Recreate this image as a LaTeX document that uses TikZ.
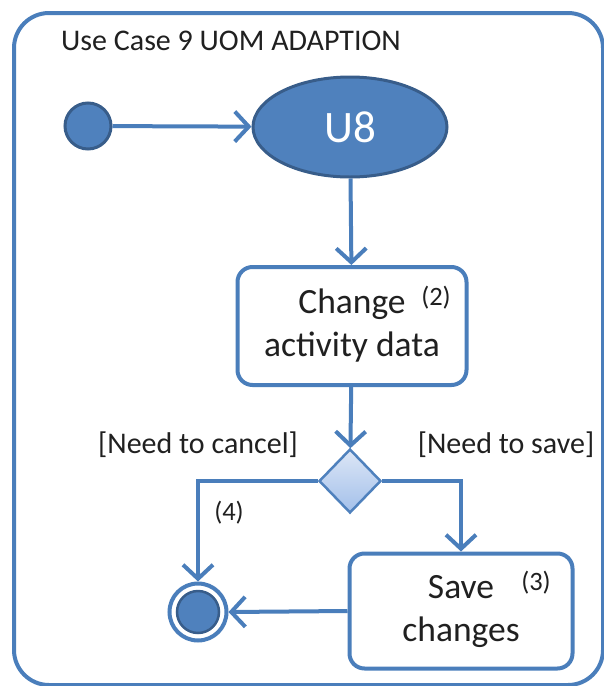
\documentclass[tikz,border=0pt]{standalone}
\usepackage{fontspec}
\setmainfont{Carlito}
\usetikzlibrary{arrows.meta,shapes.geometric,positioning}
\definecolor{ublue}{HTML}{4F81BD}
\definecolor{uline}{HTML}{4A7EBB}
\definecolor{udark}{HTML}{385D8A}
\definecolor{dtop}{HTML}{DCE6F6}
\definecolor{dbot}{HTML}{A3C0EA}
\definecolor{utext}{HTML}{202020}
\newcommand{\boxtext}[2]{\raisebox{-5pt}{\begin{tabular}{@{}c@{}}#1\\#2\end{tabular}}}
\begin{document}
\begin{tikzpicture}[x=1pt,y=-1pt,
  frame/.style={draw=uline,line width=4pt,rounded corners=35pt},
  conn/.style={draw=uline,line width=4pt,-{Straight Barb[length=14pt,width=30pt,line width=4pt]}},
  actbox/.style={draw=uline,line width=4pt,rounded corners=15pt,fill=white,inner sep=0pt,align=center,text=utext,font=\fontsize{35.5}{43}\selectfont},
  lbl/.style={text=utext,inner sep=0pt,font=\fontsize{30}{34}\selectfont},
  num/.style={text=utext,inner sep=0pt,font=\fontsize{26.5}{30}\selectfont}]
\useasboundingbox (0,0) rectangle (604,686);
\draw[frame] (14,13) rectangle (603,685);
\node[lbl,anchor=base west] (title) at (61,50) {Use Case 9 UOM ADAPTION};
\node[circle,fill=ublue,draw=udark,line width=3pt,minimum size=46pt,inner sep=0pt] (init) at (88,126) {};
\node[ellipse,fill=ublue,draw=udark,line width=3pt,minimum width=194pt,minimum height=100pt,inner sep=0pt,text=white,font=\fontsize{45}{48}\selectfont] (u8) at (350,127) {U8};
\node[actbox,minimum width=229pt,minimum height=118pt] (chg) at (352,326) {\boxtext{Change}{activity data}};
\node[num] (n2) at (436,298) {(2)};
\node[diamond,draw=ublue,line width=2.5pt,top color=dtop,bottom color=dbot,minimum width=62pt,minimum height=64pt,inner sep=0pt] (dec) at (350,481) {};
\node[actbox,minimum width=223pt,minimum height=115pt] (save) at (461,611) {\boxtext{Save}{changes}};
\node[num] (n3) at (536,583) {(3)};
\node[circle,draw=uline,line width=4pt,minimum size=57pt,inner sep=0pt] (fin) at (198,612) {};
\node[circle,fill=ublue,draw=udark,line width=2.5pt,minimum size=42pt,inner sep=0pt] (finin) at (fin.center) {};
\node[lbl] (lcan) at (198,445) {[Need to cancel]};
\node[lbl] (lsav) at (506,445) {[Need to save]};
\node[num] (n4) at (229,513) {(4)};
\draw[conn] (init) -- (u8);
\draw[conn] (u8) -- (chg);
\draw[conn] (chg) -- (dec);
\draw[conn] (dec.west) -| (fin.north);
\draw[conn] (dec.east) -| (save.north);
\draw[conn] (save.west) -- (fin.east);
\end{tikzpicture}
\end{document}
